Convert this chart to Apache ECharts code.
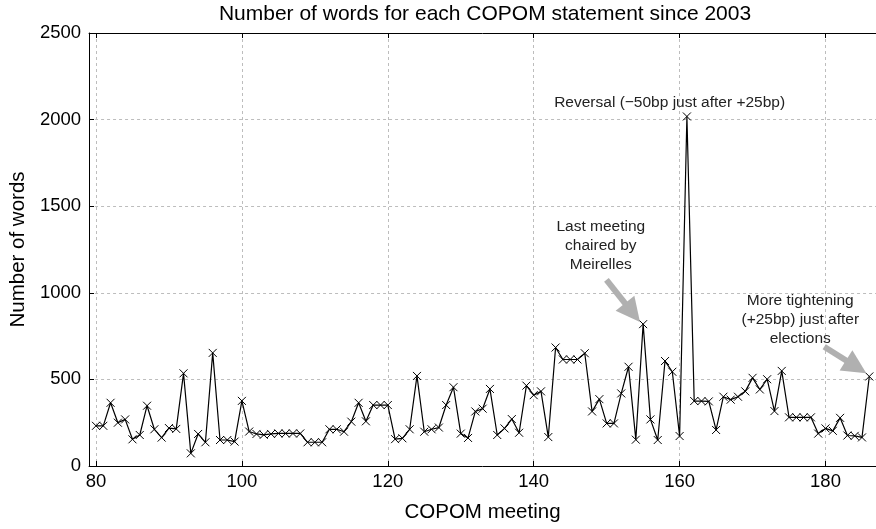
<!DOCTYPE html>
<html>
<head>
<meta charset="utf-8">
<script src="https://cdn.jsdelivr.net/npm/echarts@6/dist/echarts.min.js"></script>
<style>
  html, body { margin: 0; padding: 0; background: #fff; }
  #chart { width: 876px; height: 529px; }
</style>
</head>
<body>
<div id="chart"></div>
<script>
// COPOM meeting numbers (x values)
const meetings = [
  80, 81, 82, 83, 84, 85, 86, 87, 88, 89,
  90, 91, 92, 93, 94, 95, 96, 97, 98, 99,
  100, 101, 102, 103, 104, 105, 106, 107, 108, 109,
  110, 111, 112, 113, 114, 115, 116, 117, 118, 119,
  120, 121, 122, 123, 124, 125, 126, 127, 128, 129,
  130, 131, 132, 133, 134, 135, 136, 137, 138, 139,
  140, 141, 142, 143, 144, 145, 146, 147, 148, 149,
  150, 151, 152, 153, 154, 155, 156, 157, 158, 159,
  160, 161, 162, 163, 164, 165, 166, 167, 168, 169,
  170, 171, 172, 173, 174, 175, 176, 177, 178, 179,
  180, 181, 182, 183, 184, 185, 186
];
// Number of words in each statement
const words = [
  232, 232, 365, 250, 269, 154, 179, 348, 212, 164,
  219, 214, 535, 73, 185, 137, 653, 150, 150, 141,
  376, 199, 185, 180, 185, 188, 188, 188, 188, 137,
  137, 137, 212, 212, 198, 256, 365, 258, 352, 352,
  352, 155, 160, 212, 520, 198, 212, 222, 352, 455,
  187, 162, 315, 331, 445, 179, 217, 271, 192, 464,
  409, 431, 167, 684, 615, 615, 615, 651, 315, 386,
  246, 246, 419, 573, 152, 819, 269, 150, 606, 544,
  173, 2018, 375, 375, 373, 208, 400, 383, 400, 431,
  509, 442, 501, 317, 549, 281, 281, 281, 281, 187,
  217, 203, 278, 176, 174, 165, 517
];
const xTicks = [80, 100, 120, 140, 160, 180];
const yTicks = [0, 500, 1000, 1500, 2000, 2500];

// Annotations (text and arrow anchors in data coordinates)
const notes = [
  { text: 'Reversal (\u221250bp just after +25bp)', at: [158.63, 2096] },
  { text: 'Last meeting\nchaired by\nMeirelles', at: [149.2, 1272] },
  { text: 'More tightening\n(+25bp) just after\nelections', at: [176.54, 847] }
];
const arrows = [
  { from: [149.97, 1074], to: [153.54, 886] },
  { from: [179.82, 689], to: [184.2, 573] }
];

const FONT = '"Liberation Sans", Arial, Helvetica, sans-serif';
const chart = echarts.init(document.getElementById('chart'), null, { renderer: 'canvas' });

const xCommon = {
  type: 'value',
  min: 79.05,
  max: 186.92
};

const option = {
  animation: false,
  backgroundColor: '#fff',
  title: {
    text: 'Number of words for each COPOM statement since 2003',
    left: 480,
    textAlign: 'center',
    top: -1,
    textStyle: { fontFamily: FONT, fontSize: 21, fontWeight: 'normal', color: '#000' }
  },
  grid: { left: 84, right: -3, top: 33, bottom: 63, containLabel: false },
  xAxis: [
    Object.assign({}, xCommon, {
      position: 'bottom',
      name: 'COPOM meeting',
      nameLocation: 'middle',
      nameGap: 36,
      nameTextStyle: { fontFamily: FONT, fontSize: 20.5, color: '#000' },
      axisLine: { show: true, onZero: false, lineStyle: { color: '#000', width: 1 } },
      axisTick: { show: true, inside: true, length: 5, customValues: xTicks, lineStyle: { color: '#000' } },
      axisLabel: { show: true, customValues: xTicks, margin: 6, fontFamily: FONT, fontSize: 18.5, color: '#000' },
      splitLine: { show: true, lineStyle: { color: '#bdbdbd', width: 1, type: [3, 3] } }
    }),
    Object.assign({}, xCommon, {
      position: 'top',
      axisLine: { show: true, onZero: false, lineStyle: { color: '#000', width: 1 } },
      axisTick: { show: true, inside: true, length: 5, customValues: xTicks, lineStyle: { color: '#000' } },
      axisLabel: { show: false },
      splitLine: { show: false }
    })
  ],
  yAxis: {
    type: 'value',
    min: 0,
    max: 2500,
    interval: 500,
    name: 'Number of words',
    nameLocation: 'middle',
    nameGap: 56,
    nameTextStyle: { fontFamily: FONT, fontSize: 20.5, color: '#000' },
    axisLine: { show: true, lineStyle: { color: '#000', width: 1 } },
    axisTick: { show: true, inside: true, length: 5, lineStyle: { color: '#000' } },
    axisLabel: {
      margin: 8, fontFamily: FONT, fontSize: 18.5, color: '#000',
      formatter: function (v) { return yTicks.indexOf(v) >= 0 ? String(v) : ''; }
    },
    splitLine: { show: true, lineStyle: { color: '#bdbdbd', width: 1, type: [3, 3] } }
  },
  series: [
    {
      type: 'line',
      xAxisIndex: 0,
      data: meetings.map(function (m, i) { return [m, words[i]]; }),
      showSymbol: true,
      symbol: 'path://M0,0L10,10M10,0L0,10',
      symbolSize: 8,
      lineStyle: { color: '#000', width: 1.2 },
      itemStyle: { color: '#000', borderColor: '#000', borderWidth: 1 },
      emphasis: { disabled: true },
      z: 3,
      markPoint: {
        silent: true,
        symbol: 'rect',
        symbolSize: 1,
        itemStyle: { color: 'rgba(0,0,0,0)' },
        label: {
          show: true,
          position: 'inside',
          fontFamily: FONT,
          fontSize: 15.5,
          lineHeight: 19,
          color: '#222',
          align: 'center',
          verticalAlign: 'middle'
        },
        data: notes.map(function (n) {
          return { coord: n.at, label: { formatter: n.text } };
        })
      },
      markLine: {
        silent: true,
        symbol: ['none', 'triangle'],
        symbolSize: 24,
        lineStyle: { color: '#b0b0b0', width: 6, type: 'solid' },
        itemStyle: { color: '#b0b0b0' },
        label: { show: false },
        emphasis: { disabled: true },
        data: arrows.map(function (a) {
          return [{ coord: a.from }, { coord: a.to }];
        })
      }
    }
  ]
};

chart.setOption(option);
</script>
</body>
</html>
